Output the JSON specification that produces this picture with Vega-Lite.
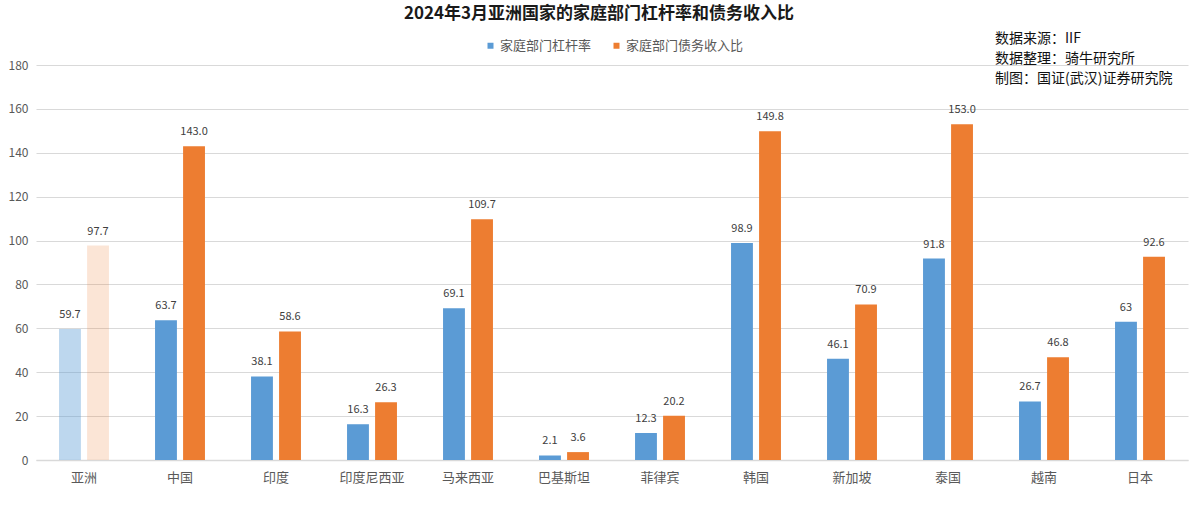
{
  "$schema": "https://vega.github.io/schema/vega-lite/v6.json",
  "width": 1152,
  "height": 395,
  "padding": {"left": 8, "top": 4, "right": 11, "bottom": 8},
  "background": "white",
  "title": {
    "text": "2024年3月亚洲国家的家庭部门杠杆率和债务收入比",
    "font": "Noto Sans CJK SC",
    "fontSize": 17,
    "fontWeight": "bold",
    "color": "#1a1a1a",
    "anchor": "middle",
    "dx": -13,
    "offset": 9
  },
  "config": {
    "view": {"stroke": null},
    "font": "Noto Sans CJK SC",
    "axis": {"labelFont": "Noto Sans CJK SC", "labelColor": "#595959"}
  },
  "data": {
    "values": [
      {"country": "亚洲", "series": "家庭部门杠杆率", "value": 59.7, "label": "59.7"},
      {"country": "亚洲", "series": "家庭部门债务收入比", "value": 97.7, "label": "97.7"},
      {"country": "中国", "series": "家庭部门杠杆率", "value": 63.7, "label": "63.7"},
      {"country": "中国", "series": "家庭部门债务收入比", "value": 143.0, "label": "143.0"},
      {"country": "印度", "series": "家庭部门杠杆率", "value": 38.1, "label": "38.1"},
      {"country": "印度", "series": "家庭部门债务收入比", "value": 58.6, "label": "58.6"},
      {"country": "印度尼西亚", "series": "家庭部门杠杆率", "value": 16.3, "label": "16.3"},
      {"country": "印度尼西亚", "series": "家庭部门债务收入比", "value": 26.3, "label": "26.3"},
      {"country": "马来西亚", "series": "家庭部门杠杆率", "value": 69.1, "label": "69.1"},
      {"country": "马来西亚", "series": "家庭部门债务收入比", "value": 109.7, "label": "109.7"},
      {"country": "巴基斯坦", "series": "家庭部门杠杆率", "value": 2.1, "label": "2.1"},
      {"country": "巴基斯坦", "series": "家庭部门债务收入比", "value": 3.6, "label": "3.6"},
      {"country": "菲律宾", "series": "家庭部门杠杆率", "value": 12.3, "label": "12.3"},
      {"country": "菲律宾", "series": "家庭部门债务收入比", "value": 20.2, "label": "20.2"},
      {"country": "韩国", "series": "家庭部门杠杆率", "value": 98.9, "label": "98.9"},
      {"country": "韩国", "series": "家庭部门债务收入比", "value": 149.8, "label": "149.8"},
      {"country": "新加坡", "series": "家庭部门杠杆率", "value": 46.1, "label": "46.1"},
      {"country": "新加坡", "series": "家庭部门债务收入比", "value": 70.9, "label": "70.9"},
      {"country": "泰国", "series": "家庭部门杠杆率", "value": 91.8, "label": "91.8"},
      {"country": "泰国", "series": "家庭部门债务收入比", "value": 153.0, "label": "153.0"},
      {"country": "越南", "series": "家庭部门杠杆率", "value": 26.7, "label": "26.7"},
      {"country": "越南", "series": "家庭部门债务收入比", "value": 46.8, "label": "46.8"},
      {"country": "日本", "series": "家庭部门杠杆率", "value": 63, "label": "63"},
      {"country": "日本", "series": "家庭部门债务收入比", "value": 92.6, "label": "92.6"}
    ]
  },
  "encoding": {
    "x": {
      "field": "country",
      "type": "nominal",
      "sort": null,
      "title": null,
      "scale": {"paddingInner": 0.48, "paddingOuter": 0.24},
      "axis": {
        "labelAngle": 0,
        "labelFontSize": 13,
        "labelPadding": 11,
        "ticks": false,
        "domainColor": "#d9d9d9",
        "domainWidth": 1.5
      }
    },
    "xOffset": {
      "field": "series",
      "type": "nominal",
      "sort": ["家庭部门杠杆率", "家庭部门债务收入比"],
      "scale": {"paddingInner": 0.22, "paddingOuter": 0}
    },
    "y": {
      "field": "value",
      "type": "quantitative",
      "title": null,
      "scale": {"domain": [0, 180]},
      "axis": {
        "values": [0, 20, 40, 60, 80, 100, 120, 140, 160, 180],
        "labelFontSize": 12,
        "labelPadding": 8,
        "ticks": false,
        "domain": false,
        "gridColor": "#d9d9d9",
        "gridWidth": 1.2
      }
    }
  },
  "layer": [
    {
      "mark": {"type": "bar"},
      "encoding": {
        "color": {
          "field": "series",
          "type": "nominal",
          "sort": ["家庭部门杠杆率", "家庭部门债务收入比"],
          "scale": {"range": ["#5b9bd5", "#ed7d31"]},
          "legend": {
            "title": null,
            "orient": "none",
            "direction": "horizontal",
            "legendX": 448,
            "legendY": -26,
            "symbolType": "square",
            "symbolSize": 36,
            "labelFontSize": 13,
            "labelColor": "#595959",
            "labelOffset": 3,
            "columnPadding": 18
          }
        },
        "opacity": {
          "condition": [
            {"test": "datum.country === '亚洲' && datum.series === '家庭部门杠杆率'", "value": 0.4},
            {"test": "datum.country === '亚洲'", "value": 0.2}
          ],
          "value": 1
        }
      }
    },
    {
      "mark": {"type": "text", "dy": -9, "baseline": "bottom", "fontSize": 11, "color": "#404040"},
      "encoding": {
        "text": {"field": "label", "type": "nominal"}
      }
    },
    {
      "transform": [
        {"filter": "datum.country === '泰国' && datum.series === '家庭部门债务收入比'"}
      ],
      "mark": {
        "type": "text",
        "align": "left",
        "baseline": "middle",
        "fontSize": 14,
        "color": "#111111",
        "lineHeight": 20,
        "dx": 33
      },
      "encoding": {
        "x": {"datum": "泰国"},
        "xOffset": {"datum": "家庭部门债务收入比"},
        "y": {"datum": 192},
        "text": {"value": ["数据来源：IIF", "数据整理：骑牛研究所", "制图：国证(武汉)证券研究院"]}
      }
    }
  ]
}
